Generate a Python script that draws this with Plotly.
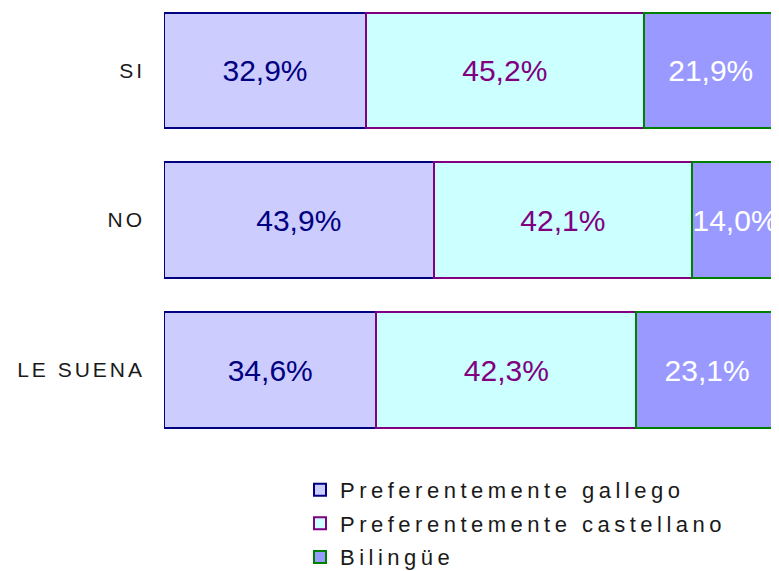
import plotly.graph_objects as go

# categories (top to bottom) and shares in %
categories = ['SI', 'NO', 'LE SUENA']
gallego = [32.9, 43.9, 34.6]
castellano = [45.2, 42.1, 42.3]
bilingue = [21.9, 14.0, 23.1]

series_names = ['Preferentemente gallego', 'Preferentemente castellano', 'Bilingüe']
fills = ['#CCCCFF', '#CCFFFF', '#9999FF']
edges = ['#000080', '#800080', '#008000']
text_colors = ['#000080', '#800080', '#FFFFFF']

FONT = 'Liberation Sans, Arial, sans-serif'


def spaced(s, px):
    # wide letter spacing as in the original
    return '<span style="letter-spacing:%spx">%s</span>' % (px, s)


fig = go.Figure()
for name, vals, fc, ec, tc in zip(series_names, [gallego, castellano, bilingue],
                                  fills, edges, text_colors):
    fig.add_trace(go.Bar(
        y=categories,
        x=vals,
        orientation='h',
        name=spaced(name, 4.5),
        legendgroup=name,
        width=0.77,
        marker=dict(color=fc, line=dict(color=ec, width=2)),
        text=[('%.1f%%' % v).replace('.', ',') for v in vals],
        textposition='inside',
        insidetextanchor='middle',
        textangle=0,
        constraintext='none',
        textfont=dict(family=FONT, size=30, color=tc),
        hoverinfo='skip',
    ))

# page body adds an 8px margin, so the figure is sized to fit the window
fig.update_layout(
    barmode='stack',
    width=771,
    height=563,
    margin=dict(l=156, r=1, t=0, b=126, autoexpand=False),
    paper_bgcolor='white',
    plot_bgcolor='white',
    showlegend=True,
    legend=dict(
        x=0.2215, xanchor='left',
        y=-0.0547, yanchor='top',
        font=dict(family=FONT, size=22, color='#1a1a1a'),
        traceorder='grouped',
        tracegroupgap=2,
        bgcolor='rgba(0,0,0,0)',
    ),
    xaxis=dict(range=[0, 100], visible=False, fixedrange=True),
    yaxis=dict(
        type='category',
        categoryorder='array',
        categoryarray=categories,
        range=[2.5, -0.415],
        tickmode='array',
        tickvals=categories,
        ticktext=[spaced(c, 3) for c in categories],
        tickfont=dict(family=FONT, size=21, color='#1a1a1a'),
        ticks='',
        ticklabelstandoff=18,
        automargin=False,
        showgrid=False,
        showline=False,
        zeroline=False,
    ),
)

fig.write_html('out.html')
